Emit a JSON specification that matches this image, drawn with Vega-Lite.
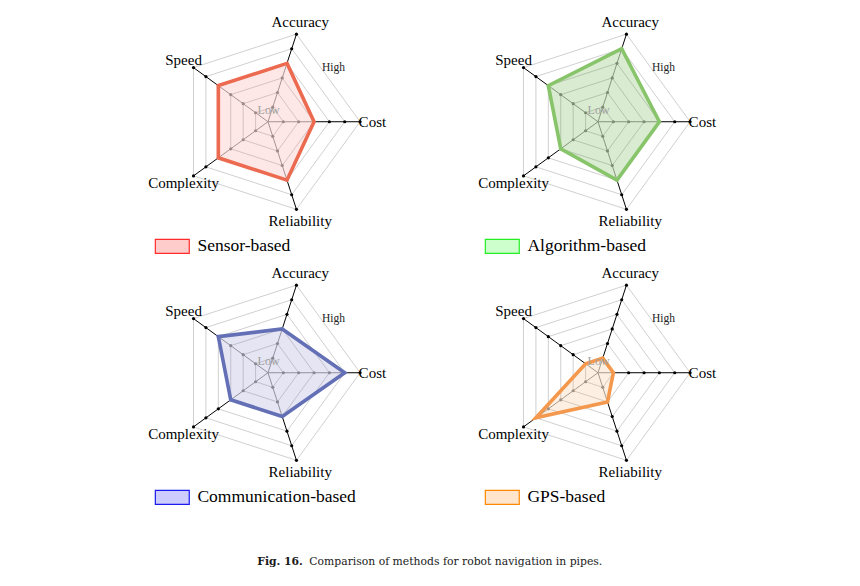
{
  "$schema": "https://vega.github.io/schema/vega-lite/v6.json",
  "padding": {"left": 103, "top": 0, "right": 0, "bottom": 0},
  "background": "white",
  "data": {"values": [
    {"method": "Sensor-based", "axis": "Accuracy", "idx": 0, "value": 4, "ticks": [1,2,3,4,5,6]},
    {"method": "Sensor-based", "axis": "Cost", "idx": 1, "value": 3, "ticks": [1,2,3,4,5,6]},
    {"method": "Sensor-based", "axis": "Reliability", "idx": 2, "value": 4, "ticks": [1,2,3,4,5,6]},
    {"method": "Sensor-based", "axis": "Complexity", "idx": 3, "value": 4, "ticks": [1,2,3,4,5,6]},
    {"method": "Sensor-based", "axis": "Speed", "idx": 4, "value": 4, "ticks": [1,2,3,4,5,6]},
    {"method": "Algorithm-based", "axis": "Accuracy", "idx": 0, "value": 5, "ticks": [1,2,3,4,5,6]},
    {"method": "Algorithm-based", "axis": "Cost", "idx": 1, "value": 4, "ticks": [1,2,3,4,5,6]},
    {"method": "Algorithm-based", "axis": "Reliability", "idx": 2, "value": 4, "ticks": [1,2,3,4,5,6]},
    {"method": "Algorithm-based", "axis": "Complexity", "idx": 3, "value": 3, "ticks": [1,2,3,4,5,6]},
    {"method": "Algorithm-based", "axis": "Speed", "idx": 4, "value": 4, "ticks": [1,2,3,4,5,6]},
    {"method": "Communication-based", "axis": "Accuracy", "idx": 0, "value": 3, "ticks": [1,2,3,4,5,6]},
    {"method": "Communication-based", "axis": "Cost", "idx": 1, "value": 5, "ticks": [1,2,3,4,5,6]},
    {"method": "Communication-based", "axis": "Reliability", "idx": 2, "value": 3, "ticks": [1,2,3,4,5,6]},
    {"method": "Communication-based", "axis": "Complexity", "idx": 3, "value": 3, "ticks": [1,2,3,4,5,6]},
    {"method": "Communication-based", "axis": "Speed", "idx": 4, "value": 4, "ticks": [1,2,3,4,5,6]},
    {"method": "GPS-based", "axis": "Accuracy", "idx": 0, "value": 1, "ticks": [1,2,3,4,5,6]},
    {"method": "GPS-based", "axis": "Cost", "idx": 1, "value": 1, "ticks": [1,2,3,4,5,6]},
    {"method": "GPS-based", "axis": "Reliability", "idx": 2, "value": 2, "ticks": [1,2,3,4,5,6]},
    {"method": "GPS-based", "axis": "Complexity", "idx": 3, "value": 5, "ticks": [1,2,3,4,5,6]},
    {"method": "GPS-based", "axis": "Speed", "idx": 4, "value": 1, "ticks": [1,2,3,4,5,6]}
  ]},
  "facet": {
    "field": "method", "type": "nominal",
    "sort": ["Sensor-based", "Algorithm-based", "Communication-based", "GPS-based"],
    "title": null,
    "header": {"labels": false, "title": null, "labelFontSize": 0, "labelPadding": 0, "labelExpr": "''"}
  },
  "columns": 2,
  "spacing": {"row": 0, "column": 0},
  "bounds": "flush",
  "spec": {
    "width": 330,
    "height": 251,
    "transform": [
      {"calculate": "(72 - 72 * datum.idx) * PI / 180", "as": "a"},
      {"calculate": "datum.value * cos(datum.a)", "as": "vx"},
      {"calculate": "datum.value * sin(datum.a)", "as": "vy"},
      {"calculate": "6 * cos(datum.a)", "as": "ex"},
      {"calculate": "6 * sin(datum.a)", "as": "ey"}
    ],
    "encoding": {
      "x": {"field": "px", "type": "quantitative", "axis": null, "scale": {"domain": [-10.75, 10.75], "nice": false, "zero": false}},
      "y": {"field": "py", "type": "quantitative", "axis": null, "scale": {"domain": [-8.42, 7.93], "nice": false, "zero": false}}
    },
    "layer": [
      {
        "transform": [
          {"flatten": ["ticks"], "as": ["tick"]},
          {"calculate": "datum.tick * cos(datum.a)", "as": "px"},
          {"calculate": "datum.tick * sin(datum.a)", "as": "py"}
        ],
        "mark": {"type": "line", "interpolate": "linear-closed", "stroke": "#c4c4c4", "strokeWidth": 0.8},
        "encoding": {
          "detail": {"field": "tick", "type": "nominal"},
          "order": {"field": "idx", "type": "quantitative"}
        }
      },
      {
        "transform": [
          {"calculate": "0", "as": "px"},
          {"calculate": "0", "as": "py"}
        ],
        "mark": {"type": "rule", "stroke": "#8a8a8a", "strokeWidth": 0.9},
        "encoding": {
          "x2": {"field": "vx"},
          "y2": {"field": "vy"}
        }
      },
      {
        "transform": [
          {"calculate": "datum.vx", "as": "px"},
          {"calculate": "datum.vy", "as": "py"}
        ],
        "mark": {"type": "rule", "stroke": "#000000", "strokeWidth": 1},
        "encoding": {
          "x2": {"field": "ex"},
          "y2": {"field": "ey"}
        }
      },
      {
        "transform": [
          {"flatten": ["ticks"], "as": ["tick"]},
          {"calculate": "datum.tick * cos(datum.a)", "as": "px"},
          {"calculate": "datum.tick * sin(datum.a)", "as": "py"}
        ],
        "mark": {"type": "circle", "size": 10, "opacity": 1},
        "encoding": {
          "color": {"condition": {"test": "datum.tick <= datum.value", "value": "#8a8a8a"}, "value": "#000000"}
        }
      },
      {
        "transform": [
          {"calculate": "datum.vx", "as": "px"},
          {"calculate": "datum.vy", "as": "py"}
        ],
        "mark": {"type": "line", "interpolate": "linear-closed", "strokeWidth": 3.6, "fillOpacity": 0.2, "strokeJoin": "miter"},
        "encoding": {
          "order": {"field": "idx", "type": "quantitative"},
          "stroke": {"condition": [
            {"test": "datum.method === 'Sensor-based'", "value": "#ec6a4f"},
            {"test": "datum.method === 'Algorithm-based'", "value": "#88c46a"},
            {"test": "datum.method === 'Communication-based'", "value": "#6470b6"}
          ], "value": "#f3984c"},
          "fill": {"condition": [
            {"test": "datum.method === 'Sensor-based'", "value": "#f58c87"},
            {"test": "datum.method === 'Algorithm-based'", "value": "#419b14"},
            {"test": "datum.method === 'Communication-based'", "value": "#7d7dc3"}
          ], "value": "#f5b473"}
        }
      },
      {
        "transform": [
          {"calculate": "6.8 * cos(datum.a)", "as": "px"},
          {"calculate": "6.8 * sin(datum.a)", "as": "py"}
        ],
        "mark": {"type": "text", "font": "Liberation Serif", "fontSize": 15, "align": "center", "baseline": "middle", "color": "#000000"},
        "encoding": {"text": {"field": "axis"}}
      },
      {
        "transform": [
          {"filter": "datum.idx === 0"},
          {"calculate": "0.04", "as": "px"},
          {"calculate": "0.76", "as": "py"}
        ],
        "mark": {"type": "text", "text": "Low", "font": "Liberation Serif", "fontSize": 12, "align": "center", "baseline": "middle", "color": "#a0a0a0"}
      },
      {
        "transform": [
          {"filter": "datum.idx === 0"},
          {"calculate": "4.27", "as": "px"},
          {"calculate": "3.48", "as": "py"}
        ],
        "mark": {"type": "text", "text": "High", "font": "Liberation Serif", "fontSize": 11.5, "align": "center", "baseline": "middle", "color": "#222222"}
      },
      {
        "transform": [
          {"filter": "datum.idx === 0"},
          {"calculate": "-7.34", "as": "px"},
          {"calculate": "-7.66", "as": "py"},
          {"calculate": "-5.13", "as": "px2"},
          {"calculate": "-8.58", "as": "py2"}
        ],
        "mark": {"type": "rect", "strokeWidth": 1.2},
        "encoding": {
          "x2": {"field": "px2"},
          "y2": {"field": "py2"},
          "stroke": {"condition": [
            {"test": "datum.method === 'Sensor-based'", "value": "#ff2a2a"},
            {"test": "datum.method === 'Algorithm-based'", "value": "#22ee22"},
            {"test": "datum.method === 'Communication-based'", "value": "#1a1aee"}
          ], "value": "#ff8800"},
          "fill": {"condition": [
            {"test": "datum.method === 'Sensor-based'", "value": "#ffcccc"},
            {"test": "datum.method === 'Algorithm-based'", "value": "#ccffcc"},
            {"test": "datum.method === 'Communication-based'", "value": "#ccccff"}
          ], "value": "#ffe5cc"}
        }
      },
      {
        "transform": [
          {"filter": "datum.idx === 0"},
          {"calculate": "-4.6", "as": "px"},
          {"calculate": "-8.12", "as": "py"}
        ],
        "mark": {"type": "text", "font": "Liberation Serif", "fontSize": 17.5, "align": "left", "baseline": "middle", "color": "#000000"},
        "encoding": {"text": {"field": "method"}}
      },
      {
        "transform": [
          {"filter": "datum.idx === 0 && datum.method === 'Communication-based'"},
          {"calculate": "-0.70", "as": "px"},
          {"calculate": "-12.31", "as": "py"}
        ],
        "mark": {"type": "text", "text": "Fig. 16.", "font": "DejaVu Serif", "fontSize": 10.8, "fontWeight": "bold", "align": "left", "baseline": "middle", "color": "#1a1a1a"}
      },
      {
        "transform": [
          {"filter": "datum.idx === 0 && datum.method === 'Communication-based'"},
          {"calculate": "2.69", "as": "px"},
          {"calculate": "-12.31", "as": "py"}
        ],
        "mark": {"type": "text", "text": "Comparison of methods for robot navigation in pipes.", "font": "DejaVu Serif", "fontSize": 10.8, "align": "left", "baseline": "middle", "color": "#1a1a1a"}
      }
    ]
  },
  "config": {"view": {"stroke": null}, "header": {"labels": false, "title": null, "labelFontSize": 0, "labelPadding": 0}}
}
